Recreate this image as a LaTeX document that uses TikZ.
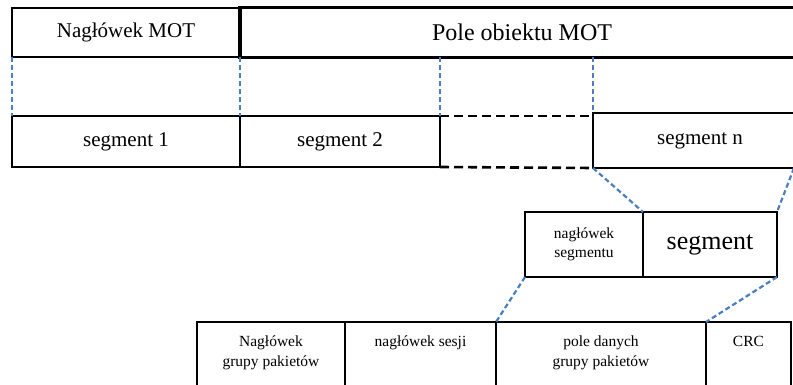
\documentclass[tikz,border=0pt]{standalone}
\usepackage{fontspec}
\setmainfont{Liberation Serif}
\usetikzlibrary{positioning}
\definecolor{linkBlue}{HTML}{4A7EC2}

\begin{document}
\begin{tikzpicture}[
  x=1pt, y=-1pt,
  box/.style={draw, line width=2.2pt, inner sep=0pt, outer sep=0pt, anchor=north west},
  txt/.style={inner sep=0pt, align=center, font=\fontsize{15.5}{20}\selectfont},
  link/.style={draw=linkBlue, line width=2.2pt, dash pattern=on 5pt off 3pt},
  gap/.style={line width=2.6pt, dash pattern=on 9pt off 5pt},
]
\useasboundingbox (0,0) rectangle (793,385);

% MOT object: header and body
\node[box, line width=2.8pt, minimum width=228pt, minimum height=49pt,
  font=\fontsize{21}{25}\selectfont] (hdr) at (12,8) {Nagłówek MOT};
\node[box, line width=3.8pt, minimum width=564pt, minimum height=50pt,
  font=\fontsize{24}{28}\selectfont] (body) at (240,7.5) {Pole obiektu MOT};

% Segments
\node[box, minimum width=228pt, minimum height=51pt,
  font=\fontsize{21}{25}\selectfont] (seg1) at (12,116) {segment 1};
\node[box, minimum width=200pt, minimum height=51pt,
  font=\fontsize{21}{25}\selectfont] (seg2) at (240,116) {segment 2};
\node[box, line width=2pt, minimum width=214pt, minimum height=55pt,
  font=\fontsize{21}{25}\selectfont] (segn) at (593,113) {segment n};
\draw[gap] (seg2.north east) -- (segn.west |- seg2.north);
\draw[gap] (seg2.south east) -- (segn.south west);

% Split lines between object and segments
\draw[link] (hdr.south west) -- (seg1.north west);
\draw[link] (hdr.south east) -- (seg2.north west);
\draw[link] (seg2.north east |- body.south) -- (seg2.north east);
\draw[link] (segn.north west |- body.south) -- (segn.north west);

% Single segment
\node[box, minimum width=118pt, minimum height=65pt, txt,
  font=\fontsize{15.5}{19}\selectfont] (shdr) at (525,212) {nagłówek\\segmentu};
\node[box, minimum width=134pt, minimum height=65pt,
  font=\fontsize{26}{30}\selectfont] (sbody) at (643,212) {segment};
\coordinate (nend) at (794,168);
\draw[link] (segn.south west) -- (sbody.north west);
\draw[link] (nend) -- (sbody.north east);

% Packet group
\node[box, line width=1.6pt, minimum width=148pt, minimum height=80pt] (gph) at (197,322) {};
\node[box, line width=1.6pt, minimum width=151pt, minimum height=80pt] (sess) at (345,322) {};
\node[box, line width=2.4pt, minimum width=210pt, minimum height=80pt] (data) at (496,322) {};
\node[box, line width=1.6pt, minimum width=85pt, minimum height=80pt] (crc) at (706,322) {};
\node[txt, below=14pt of gph.north] (gph-txt) {Nagłówek\\grupy pakietów};
\node[txt, below=14pt of sess.north] (sess-txt) {nagłówek sesji};
\node[txt, below=14pt of data.north] (data-txt) {pole danych\\grupy pakietów};
\node[txt, below=14pt of crc.north] (crc-txt) {CRC};
\draw[link] (shdr.south west) -- (data.north west);
\draw[link] (sbody.south east) -- (data.north east);
\end{tikzpicture}
\end{document}
